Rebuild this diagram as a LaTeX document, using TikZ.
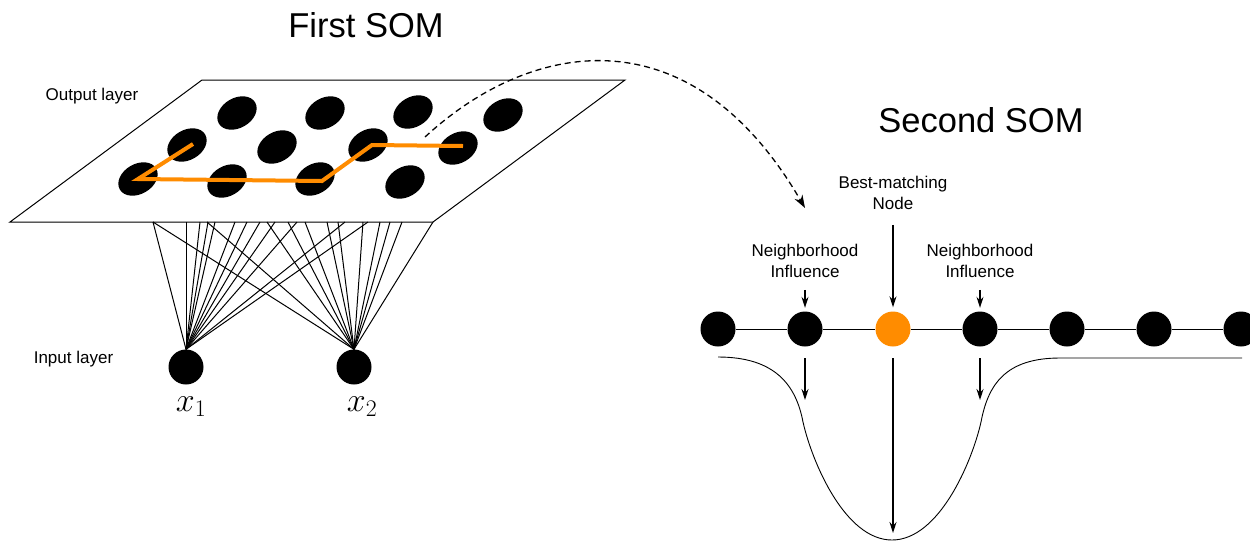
\RequirePackage{fix-cm}
\documentclass[tikz,border=0pt]{standalone}
\usepackage{fontspec}
\setmainfont{Liberation Sans}
\usetikzlibrary{arrows.meta,shapes.geometric,calc}
\definecolor{som}{HTML}{FF8C00}
\begin{document}
\begin{tikzpicture}[x=1pt,y=-1pt,
  every node/.style={font=\fontsize{17}{21}\selectfont},
  blob/.style={ellipse, fill=black, minimum width=42pt, minimum height=30pt, inner sep=0pt, rotate=30},
  unit/.style={circle, fill=black, minimum size=35pt, inner sep=0pt},
  arr/.style={line width=1.3pt, -{Stealth[length=11pt,width=7pt]}},
  link/.style={line width=1pt},
  lbl/.style={align=center, inner sep=0pt},
  title/.style={font=\fontsize{34.5}{40}\selectfont, inner sep=0pt},
  mathlbl/.style={font=\fontsize{34}{40}\selectfont, inner sep=0pt, anchor=base}]
\useasboundingbox (0,0) rectangle (1250,542);

% output plane
\draw[line width=1pt, fill=white] (10,222) -- (433,222) -- (625,80) -- (202,80) -- cycle;

% input units
\node[unit] (x1) at (186,367) {};
\node[unit] (x2) at (354,367) {};
\node[mathlbl] (lx1) at (191,411) {$x_1$};
\node[mathlbl] (lx2) at (362,411) {$x_2$};

% connections
\foreach \t in {153,186,200,208,215,235,247,260,275,297,345,368}
  {\coordinate (a\t) at (\t,222); \draw[link] (a\t) -- (x1.north);}
\foreach \t in {153,207,267,288,305,327,338,363,380,390,402,433}
  {\coordinate (b\t) at (\t,222); \draw[link] (b\t) -- (x2.north);}

% output units
\node[blob] (m11) at (237,113) {};
\node[blob] (m12) at (325,113) {};
\node[blob] (m13) at (413,112) {};
\node[blob] (m14) at (503,115) {};
\node[blob] (m21) at (187,145) {};
\node[blob] (m22) at (277,147) {};
\node[blob] (m23) at (368,145) {};
\node[blob] (m24) at (458,148) {};
\node[blob] (m31) at (138,179) {};
\node[blob] (m32) at (227,181) {};
\node[blob] (m33) at (315,179) {};
\node[blob] (m34) at (405,182) {};

\draw[som, line width=4pt] ([shift={(6,-1)}]m21.center) -- (m31.center) -- ([shift={(7,2)}]m33.center) -- ([shift={(4,0)}]m23.center) -- ([shift={(5,-2)}]m24.center);

% dashed transfer arrow
\coordinate (ds) at (425,137);
\coordinate (de) at (805,208);
\draw[line width=1.3pt, dash pattern=on 6pt off 4pt, -{Stealth[length=13pt,width=9pt]}] (ds) .. controls (530,40) and (690,10) .. (de);

% texts
\node[title, anchor=base] (t1) at (366,37.7) {First SOM};
\node[title, anchor=base] (t2) at (981,132.3) {Second SOM};
\node[anchor=base, inner sep=0pt] (ol) at (92,100) {Output layer};
\node[anchor=base, inner sep=0pt] (il) at (73.5,363) {Input layer};

% second SOM
\node[unit] (n1) at (718,329) {};
\node[unit] (n2) at (805,329) {};
\node[unit, fill=som] (n3) at (893,329) {};
\node[unit] (n4) at (980,329) {};
\node[unit] (n5) at (1067,329) {};
\node[unit] (n6) at (1154,329) {};
\node[unit] (n7) at (1241,329) {};
\foreach \a/\b in {n1/n2,n2/n3,n3/n4,n4/n5,n5/n6,n6/n7} \draw[link] (\a) -- (\b);

\node[lbl] (bm) at (893,193) {Best-matching\\Node};
\node[lbl] (nh1) at (805,261) {Neighborhood\\Influence};
\node[lbl] (nh2) at (980,261) {Neighborhood\\Influence};
\draw[arr] ([yshift=-15pt]bm.south) -- ([yshift=4pt]n3.north);
\draw[arr] ([yshift=-12pt]nh1.south) -- ([yshift=3.5pt]n2.north);
\draw[arr] ([yshift=-12pt]nh2.south) -- ([yshift=3.5pt]n4.north);

% neighbourhood function
\draw[line width=0.9pt] (718,357) .. controls (775,357) and (796,385) .. (803,422)
  .. controls (812,462) and (845,540) .. (892,540)
  .. controls (939,540) and (972,462) .. (981,422)
  .. controls (988,385) and (1005,358) .. (1060,358) -- (1242,358);
\coordinate (g2a) at (805,358); \coordinate (g2b) at (805,400);
\coordinate (g3a) at (893,358); \coordinate (g3b) at (893,533);
\coordinate (g4a) at (980,358); \coordinate (g4b) at (980,400);
\draw[arr] (g2a) -- (g2b);
\draw[arr] (g3a) -- (g3b);
\draw[arr] (g4a) -- (g4b);
\end{tikzpicture}
\end{document}
